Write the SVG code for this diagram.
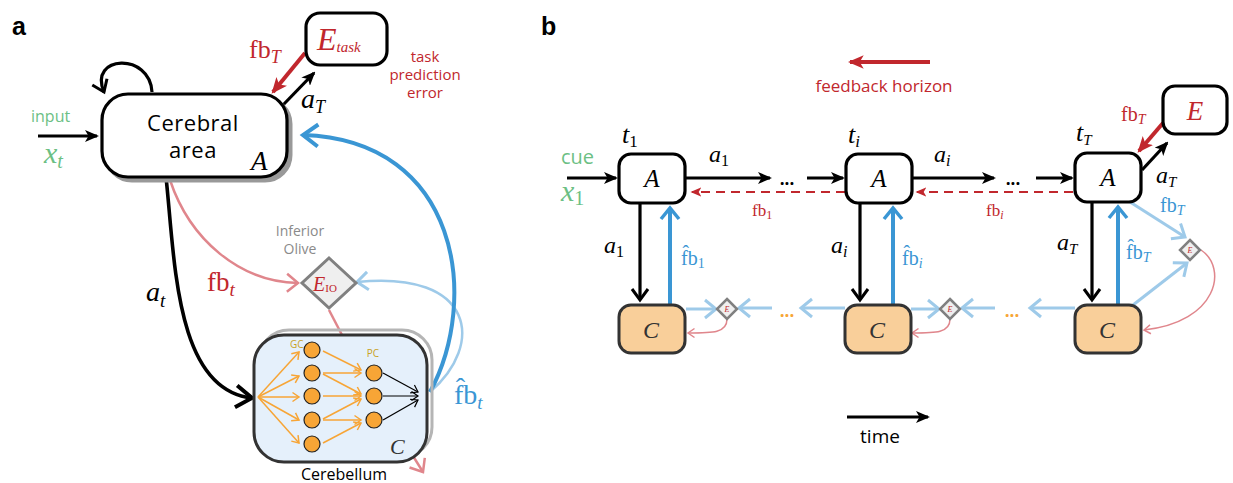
<svg xmlns="http://www.w3.org/2000/svg" width="1233" height="483" viewBox="0 0 1233 483">
<style>
  .sans { font-family: "Open Sans", "Liberation Sans", sans-serif; }
  .bold { font-family: "Liberation Sans", "Open Sans", sans-serif; font-weight: bold; }
  .m { font-family: "Liberation Serif", "DejaVu Serif", serif; }
  .it { font-style: italic; }
  .red { fill: #c1272d; }
  .green { fill: #6cbf84; }
  .blue { fill: #3a96d4; }
  .gray { fill: #8a8a8a; }
  .box { fill: #ffffff; stroke: #000; stroke-width: 3.2; }
  .cbox { fill: #f9cf9a; stroke: #333; stroke-width: 3; }
  .dia { fill: #efefef; stroke: #808080; }
  .k { stroke: #000; fill: none; }
  .r { stroke: #c1272d; fill: none; }
  .pk { stroke: #e0868c; fill: none; }
  .bl { stroke: #3a96d4; fill: none; }
  .lb { stroke: #9ecae9; fill: none; }
  .or { stroke: #f7a536; fill: none; stroke-width: 1.5; }
  .gc { fill: #f7a536; stroke: #222; stroke-width: 1.2; }
</style>
<defs>
  <!-- filled concave heads -->
  <marker id="fk" viewBox="0 0 14 12" refX="12" refY="6" markerWidth="14" markerHeight="12" markerUnits="userSpaceOnUse" orient="auto">
    <path d="M0,0 L14,6 L0,12 L3.5,6 Z" fill="#000"/>
  </marker>
  <marker id="fr" viewBox="0 0 14 12" refX="12" refY="6" markerWidth="16" markerHeight="14" markerUnits="userSpaceOnUse" orient="auto">
    <path d="M0,0 L14,6 L0,12 L3.5,6 Z" fill="#c1272d"/>
  </marker>
  <marker id="frs" viewBox="0 0 14 12" refX="12" refY="6" markerWidth="11" markerHeight="10" markerUnits="userSpaceOnUse" orient="auto">
    <path d="M0,0 L14,6 L0,12 L3.5,6 Z" fill="#c1272d"/>
  </marker>
  <!-- open chevron heads -->
  <marker id="ck" viewBox="0 0 20 24" refX="18" refY="12" markerWidth="20" markerHeight="24" markerUnits="userSpaceOnUse" orient="auto" overflow="visible">
    <path d="M2,1 L18,12 L2,23" fill="none" stroke="#000" stroke-width="4"/>
  </marker>
  <marker id="cks" viewBox="0 0 14 18" refX="12" refY="9" markerWidth="14" markerHeight="18" markerUnits="userSpaceOnUse" orient="auto" overflow="visible">
    <path d="M1,1 L12,9 L1,17" fill="none" stroke="#000" stroke-width="3"/>
  </marker>
  <marker id="ckt" viewBox="0 0 8 10" refX="7" refY="5" markerWidth="8" markerHeight="10" markerUnits="userSpaceOnUse" orient="auto" overflow="visible">
    <path d="M0.5,0.5 L7,5 L0.5,9.5" fill="none" stroke="#000" stroke-width="1.2"/>
  </marker>
  <marker id="cb" viewBox="0 0 18 24" refX="16" refY="12" markerWidth="18" markerHeight="24" markerUnits="userSpaceOnUse" orient="auto" overflow="visible">
    <path d="M1,1 L16,12 L1,23" fill="none" stroke="#3a96d4" stroke-width="4"/>
  </marker>
  <marker id="cbs" viewBox="0 0 14 20" refX="12" refY="10" markerWidth="14" markerHeight="20" markerUnits="userSpaceOnUse" orient="auto" overflow="visible">
    <path d="M1,1 L12,10 L1,19" fill="none" stroke="#3a96d4" stroke-width="3.5"/>
  </marker>
  <marker id="clb" viewBox="0 0 14 20" refX="12" refY="10" markerWidth="14" markerHeight="20" markerUnits="userSpaceOnUse" orient="auto" overflow="visible">
    <path d="M1,1 L12,10 L1,19" fill="none" stroke="#9ecae9" stroke-width="3"/>
  </marker>
  <marker id="cp" viewBox="0 0 14 20" refX="12" refY="10" markerWidth="14" markerHeight="20" markerUnits="userSpaceOnUse" orient="auto" overflow="visible">
    <path d="M1,1 L12,10 L1,19" fill="none" stroke="#e0868c" stroke-width="2.5"/>
  </marker>
  <marker id="cps" viewBox="0 0 8 10" refX="7" refY="5" markerWidth="8" markerHeight="10" markerUnits="userSpaceOnUse" orient="auto" overflow="visible">
    <path d="M0.5,0.5 L7,5 L0.5,9.5" fill="none" stroke="#e0868c" stroke-width="1.5"/>
  </marker>
  <marker id="co" viewBox="0 0 8 10" refX="7" refY="5" markerWidth="8" markerHeight="10" markerUnits="userSpaceOnUse" orient="auto" overflow="visible">
    <path d="M0.5,0.5 L7,5 L0.5,9.5" fill="none" stroke="#f7a536" stroke-width="1.5"/>
  </marker>
</defs>

<!-- ===== panel a ===== -->
<text class="bold" x="12" y="35" font-size="25">a</text>

<g id="a-connectors">
  <!-- self loop on the cerebral area -->
  <path class="k" stroke-width="3.2" d="M152,92 C150,52 88,55 104,92" marker-end="url(#cks)"/>
  <!-- input x_t -->
  <path class="k" stroke-width="3.2" d="M38,136 L97,136" marker-end="url(#fk)"/>
  <!-- a_T to task error -->
  <path class="k" stroke-width="3.2" d="M283,105 L314,73" marker-end="url(#fk)"/>
  <!-- fb_T back from task error -->
  <path class="r" stroke-width="4" d="M305,53 L273,92" marker-end="url(#fr)"/>
  <!-- a_t to cerebellum -->
  <path class="k" stroke-width="3.6" d="M166,177 C175,260 175,390 252,398" marker-end="url(#ck)"/>
  <!-- fb_t to inferior olive -->
  <path class="pk" stroke-width="2.5" d="M170,180 C190,240 240,282 298,283" marker-end="url(#cp)"/>
  <!-- olive to cerebellum -->
  <path class="pk" stroke-width="2.5" d="M329,310 L342,335"/>
  <!-- predicted feedback to olive -->
  <path class="lb" stroke-width="2.5" d="M430,392 C485,345 475,270 357,282" marker-end="url(#clb)"/>
  <!-- predicted feedback to cerebral area -->
  <path class="bl" stroke-width="4" d="M430,392 C480,300 460,140 303,135" marker-end="url(#cb)"/>
  <!-- cerebellum output -->
  <path class="pk" stroke-width="2.5" d="M413,456 L423,472" marker-end="url(#cp)"/>
</g>

<g id="cerebral-area">
  <rect x="106" y="98" width="185" height="83" rx="26" fill="#999" stroke="#999" stroke-width="3"/>
  <rect class="box" x="102" y="94" width="185" height="83" rx="26"/>
  <text class="sans" font-size="22" letter-spacing="0.5" text-anchor="middle"><tspan x="193" y="131">Cerebral</tspan><tspan x="193" y="158">area</tspan></text>
  <text class="m it" x="251" y="170" font-size="27">A</text>
</g>

<g id="task-error">
  <rect class="box" x="306" y="13" width="81" height="52" rx="14"/>
  <text class="m it red" x="317" y="50" font-size="32">E<tspan font-size="15" dy="2">task</tspan></text>
  <text class="sans red" font-size="15" text-anchor="middle"><tspan x="425" y="62">task</tspan><tspan x="425" y="80">prediction</tspan><tspan x="425" y="98">error</tspan></text>
</g>

<g id="a-labels">
  <text class="sans green" x="31" y="122" font-size="16">input</text>
  <text class="m it green" x="44" y="163" font-size="30">x<tspan font-size="20" dy="5">t</tspan></text>
  <text class="m red" x="249" y="58" font-size="26">fb<tspan class="it" font-size="18" dy="5">T</tspan></text>
  <text class="m it" x="301" y="108" font-size="28">a<tspan font-size="18" dy="5">T</tspan></text>
  <text class="m it" x="146" y="301" font-size="28">a<tspan font-size="19" dy="6">t</tspan></text>
  <text class="m red" x="207" y="291" font-size="27">fb<tspan class="it" font-size="19" dy="5">t</tspan></text>
  <text class="m blue" x="454" y="404" font-size="28">f&#770;b<tspan class="it" font-size="19" dy="5">t</tspan></text>
</g>

<g id="inferior-olive">
  <text class="sans gray" font-size="14" text-anchor="middle"><tspan x="300" y="236">Inferior</tspan><tspan x="300" y="254">Olive</tspan></text>
  <polygon class="dia" stroke-width="3" points="329,258 356,283 329,308 302,283"/>
  <text class="m it red" x="313" y="291" font-size="20">E<tspan font-size="11" font-style="normal" dy="1">IO</tspan></text>
</g>

<g id="cerebellum">
  <rect x="259" y="330" width="173" height="127" rx="30" fill="none" stroke="#b5b5b5" stroke-width="3"/>
  <rect x="254" y="335" width="173" height="127" rx="30" fill="#e5f0fb" stroke="#333" stroke-width="3"/>
  <text class="sans" x="290" y="348" font-size="10" fill="#c9a21f">GC</text>
  <text class="sans" x="373" y="357" font-size="10" fill="#c9a21f" text-anchor="middle">PC</text>
  <!-- mossy inputs to granule cells -->
  <g class="or">
    <path d="M258,397 L299,352" marker-end="url(#co)"/>
    <path d="M258,397 L299,376" marker-end="url(#co)"/>
    <path d="M258,397 L299,397" marker-end="url(#co)"/>
    <path d="M258,397 L299,420" marker-end="url(#co)"/>
    <path d="M258,397 L299,443" marker-end="url(#co)"/>
    <!-- parallel fibres to Purkinje cells -->
    <path d="M323,351 L361,370" marker-end="url(#co)"/>
    <path d="M323,373 L361,373" marker-end="url(#co)"/>
    <path d="M323,374 L361,394" marker-end="url(#co)"/>
    <path d="M323,396 L361,396" marker-end="url(#co)"/>
    <path d="M323,419 L361,399" marker-end="url(#co)"/>
    <path d="M323,420 L361,420" marker-end="url(#co)"/>
    <path d="M323,443 L361,423" marker-end="url(#co)"/>
  </g>
  <g class="k" stroke-width="1.2">
    <path d="M383,373 L418,392" marker-end="url(#ckt)"/>
    <path d="M383,396 L418,396" marker-end="url(#ckt)"/>
    <path d="M383,420 L418,400" marker-end="url(#ckt)"/>
  </g>
  <circle class="gc" cx="312" cy="350" r="8"/>
  <circle class="gc" cx="312" cy="373" r="8"/>
  <circle class="gc" cx="312" cy="396" r="8"/>
  <circle class="gc" cx="312" cy="420" r="8"/>
  <circle class="gc" cx="312" cy="444" r="8"/>
  <circle class="gc" cx="374" cy="373" r="8"/>
  <circle class="gc" cx="374" cy="396" r="8"/>
  <circle class="gc" cx="374" cy="420" r="8"/>
  <text class="m it" x="390" y="454" font-size="22" fill="#333">C</text>
  <text class="sans" x="344" y="480" font-size="16" text-anchor="middle">Cerebellum</text>
</g>

<!-- ===== panel b ===== -->
<text class="bold" x="541" y="35" font-size="25">b</text>

<g id="b-connectors">
  <!-- feedback horizon -->
  <path class="r" stroke-width="4" d="M930,62 L850,62" marker-end="url(#fr)"/>
  <!-- time -->
  <path class="k" stroke-width="3.2" d="M847,417 L928,417" marker-end="url(#fk)"/>
  <!-- cue input -->
  <path class="k" stroke-width="3.2" d="M567,178 L616,178" marker-end="url(#fk)"/>
  <!-- forward actions -->
  <path class="k" stroke-width="3.2" d="M686,178 L770,178" marker-end="url(#fk)"/>
  <path class="k" stroke-width="3.2" d="M807,178 L843,178" marker-end="url(#fk)"/>
  <path class="k" stroke-width="3.2" d="M912,178 L994,178" marker-end="url(#fk)"/>
  <path class="k" stroke-width="3.2" d="M1036,178 L1072,178" marker-end="url(#fk)"/>
  <!-- delayed feedback (dashed) -->
  <path class="r" stroke-width="2" stroke-dasharray="9,6" d="M845,192 L692,192" marker-end="url(#frs)"/>
  <path class="r" stroke-width="2" stroke-dasharray="9,6" d="M1073,192 L917,192" marker-end="url(#frs)"/>
  <!-- final action and task feedback -->
  <path class="k" stroke-width="3.2" d="M1142,170 L1167,143" marker-end="url(#fk)"/>
  <path class="r" stroke-width="4" d="M1163,123 L1139,151" marker-end="url(#fr)"/>
  <!-- actions down to cerebellum -->
  <path class="k" stroke-width="3.2" d="M640,203 L640,300" marker-end="url(#cks)"/>
  <path class="k" stroke-width="3.2" d="M860,203 L860,300" marker-end="url(#cks)"/>
  <path class="k" stroke-width="3.2" d="M1092,202 L1092,300" marker-end="url(#cks)"/>
  <!-- predicted feedback up -->
  <path class="bl" stroke-width="4" d="M670,305 L670,208" marker-end="url(#cbs)"/>
  <path class="bl" stroke-width="4" d="M893,305 L893,208" marker-end="url(#cbs)"/>
  <path class="bl" stroke-width="4" d="M1118,305 L1118,207" marker-end="url(#cbs)"/>
  <!-- predicted feedback between steps -->
  <path class="lb" stroke-width="3" d="M686,309 L716,309" marker-end="url(#clb)"/>
  <path class="lb" stroke-width="3" d="M772,308 L739,308" marker-end="url(#clb)"/>
  <path class="lb" stroke-width="3" d="M845,308 L801,308" marker-end="url(#clb)"/>
  <path class="lb" stroke-width="3" d="M911,309 L939,309" marker-end="url(#clb)"/>
  <path class="lb" stroke-width="3" d="M995,308 L962,308" marker-end="url(#clb)"/>
  <path class="lb" stroke-width="3" d="M1075,308 L1030,308" marker-end="url(#clb)"/>
  <path class="lb" stroke-width="3" d="M1130,202 L1185,237" marker-end="url(#clb)"/>
  <path class="lb" stroke-width="3" d="M1133,305 L1187,263" marker-end="url(#clb)"/>
  <!-- local errors back to cerebellum -->
  <path class="pk" stroke-width="1.5" d="M727,319 C727,333 713,333 688,333" marker-end="url(#cps)"/>
  <path class="pk" stroke-width="1.5" d="M950,319 C950,333 936,333 912,333" marker-end="url(#cps)"/>
  <path class="pk" stroke-width="1.5" d="M1201,250 C1228,268 1218,322 1144,330" marker-end="url(#cps)"/>
</g>

<g id="b-dots">
  <text class="sans" x="787" y="185" font-size="17" font-weight="bold" text-anchor="middle">...</text>
  <text class="sans" x="1013" y="185" font-size="17" font-weight="bold" text-anchor="middle">...</text>
  <text class="sans" x="787" y="317" font-size="17" font-weight="bold" text-anchor="middle" fill="#f7a536">...</text>
  <text class="sans" x="1012" y="317" font-size="17" font-weight="bold" text-anchor="middle" fill="#f7a536">...</text>
</g>

<g id="A1">
  <rect class="box" x="619" y="154" width="66" height="49" rx="12"/>
  <text class="m it" x="652" y="187" font-size="25" text-anchor="middle">A</text>
</g>
<g id="Ai">
  <rect class="box" x="846" y="154" width="66" height="49" rx="12"/>
  <text class="m it" x="879" y="187" font-size="25" text-anchor="middle">A</text>
</g>
<g id="AT">
  <rect class="box" x="1075" y="153" width="66" height="49" rx="12"/>
  <text class="m it" x="1108" y="186" font-size="25" text-anchor="middle">A</text>
</g>
<g id="E">
  <rect class="box" x="1163" y="86" width="64" height="48" rx="12"/>
  <text class="m it red" x="1195" y="120" font-size="27" text-anchor="middle">E</text>
</g>
<g id="C1">
  <rect class="cbox" x="619" y="305" width="66" height="48" rx="12"/>
  <text class="m it" x="651" y="338" font-size="24" text-anchor="middle" fill="#333">C</text>
</g>
<g id="Ci">
  <rect class="cbox" x="845" y="305" width="66" height="48" rx="12"/>
  <text class="m it" x="877" y="338" font-size="24" text-anchor="middle" fill="#333">C</text>
</g>
<g id="CT">
  <rect class="cbox" x="1075" y="305" width="66" height="48" rx="12"/>
  <text class="m it" x="1107" y="338" font-size="24" text-anchor="middle" fill="#333">C</text>
</g>
<g id="E1">
  <polygon class="dia" stroke-width="2.5" points="727,299 737,309 727,319 717,309"/>
  <text class="m it red" x="727" y="312" font-size="8" text-anchor="middle">E</text>
</g>
<g id="Ei">
  <polygon class="dia" stroke-width="2.5" points="950,299 960,309 950,319 940,309"/>
  <text class="m it red" x="950" y="312" font-size="8" text-anchor="middle">E</text>
</g>
<g id="ET">
  <polygon class="dia" stroke-width="2.5" points="1190,240 1200,250 1190,260 1180,250"/>
  <text class="m it red" x="1190" y="253" font-size="8" text-anchor="middle">E</text>
</g>

<g id="b-labels">
  <text class="sans red" x="884" y="92" font-size="17" text-anchor="middle">feedback horizon</text>
  <text class="sans" x="880" y="443" font-size="19" text-anchor="middle">time</text>
  <text class="sans green" x="561" y="164" font-size="20">cue</text>
  <text class="m it green" x="561" y="201" font-size="30">x<tspan font-style="normal" font-size="20" dy="4">1</tspan></text>
  <text class="m it" x="622" y="143" font-size="26">t<tspan font-style="normal" font-size="17" dy="4">1</tspan></text>
  <text class="m it" x="848" y="143" font-size="26">t<tspan font-size="17" dy="4">i</tspan></text>
  <text class="m it" x="1076" y="141" font-size="26">t<tspan font-size="15" dy="4">T</tspan></text>
  <text class="m it" x="709" y="162" font-size="24">a<tspan font-style="normal" font-size="16" dy="4">1</tspan></text>
  <text class="m it" x="934" y="162" font-size="24">a<tspan font-size="16" dy="4">i</tspan></text>
  <text class="m it" x="1156" y="183" font-size="24">a<tspan font-size="15" dy="4">T</tspan></text>
  <text class="m red" x="752" y="216" font-size="17">fb<tspan font-size="12" dy="3">1</tspan></text>
  <text class="m red" x="986" y="216" font-size="17">fb<tspan class="it" font-size="12" dy="3">i</tspan></text>
  <text class="m red" x="1121" y="121" font-size="20">fb<tspan class="it" font-size="14" dy="3">T</tspan></text>
  <text class="m blue" x="1160" y="212" font-size="20">fb<tspan class="it" font-size="14" dy="3">T</tspan></text>
  <text class="m it" x="604" y="253" font-size="24">a<tspan font-style="normal" font-size="16" dy="4">1</tspan></text>
  <text class="m it" x="831" y="253" font-size="24">a<tspan font-size="16" dy="4">i</tspan></text>
  <text class="m it" x="1057" y="250" font-size="24">a<tspan font-size="15" dy="4">T</tspan></text>
  <text class="m blue" x="681" y="265" font-size="20">f&#770;b<tspan font-size="14" dy="3">1</tspan></text>
  <text class="m blue" x="902" y="265" font-size="20">f&#770;b<tspan class="it" font-size="14" dy="3">i</tspan></text>
  <text class="m blue" x="1126" y="259" font-size="20">f&#770;b<tspan class="it" font-size="14" dy="3">T</tspan></text>
</g>
</svg>
